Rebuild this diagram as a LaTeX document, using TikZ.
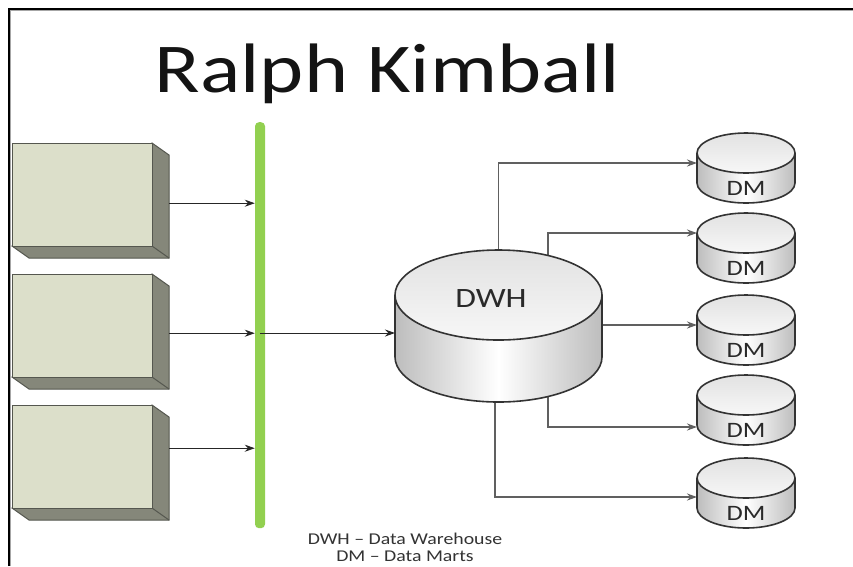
\documentclass[tikz,border=0pt]{standalone}
\usepackage{fontspec}
\usepackage{graphicx}
\setmainfont{Carlito}
\usetikzlibrary{arrows.meta}

\definecolor{boxface}{HTML}{DCDFCA}
\definecolor{boxside}{HTML}{85877A}
\definecolor{boxline}{HTML}{55574F}
\definecolor{busgreen}{HTML}{92D050}
\definecolor{cylline}{HTML}{333333}
\definecolor{cylgrey}{HTML}{BDBDBD}
\definecolor{cyltopa}{HTML}{E2E2E2}
\definecolor{cyltopb}{HTML}{F7F7F7}
\definecolor{wire}{HTML}{606060}
\definecolor{inktext}{HTML}{2A2A2A}

% horizontally widened text, as on the slide
\newcommand\widetext[1]{\scalebox{1.2}[1]{#1}}

% 3-D source box: #1 name, #2 left x, #3 top y of the front face
\newcommand\srcbox[3]{%
  \filldraw[boxline, fill=boxside, line width=1]
    (#2+140,#3) -- ++(17,12) -- ++(0,103) -- ++(-140,0) -- ++(-17,-12) -- cycle;
  \draw[boxline, line width=1] (#2+140,#3+103) -- ++(17,12);
  \filldraw[boxline, fill=boxface, line width=1] (#2,#3) rectangle ++(140,103);
  \node[inner sep=0, minimum width=157, minimum height=115, anchor=north west] (#1) at (#2,#3) {};
}

% database cylinder: #1 name, #2 centre x, #3 centre y of the top ellipse,
% #4 x radius, #5 y radius, #6 body height
\newcommand\dbcyl[6]{%
  \path[left color=cylgrey, right color=cylgrey, middle color=white]
    (#2-#4,#3) -- (#2-#4,#3+#6)
    arc[start angle=180, end angle=0, x radius=#4, y radius=#5]
    -- (#2+#4,#3)
    arc[start angle=0, end angle=180, x radius=#4, y radius=#5] -- cycle;
  \path[top color=cyltopa, bottom color=cyltopb]
    (#2,#3) ellipse[x radius=#4, y radius=#5];
  \draw[cylline, line width=1.6]
    (#2-#4,#3) -- (#2-#4,#3+#6)
    arc[start angle=180, end angle=0, x radius=#4, y radius=#5]
    -- (#2+#4,#3);
  \draw[cylline, line width=1.6] (#2,#3) ellipse[x radius=#4, y radius=#5];
  \node[inner sep=0, minimum width=2*#4, minimum height=2*#5+#6] (#1) at (#2,#3+#6/2) {};
}

\tikzset{
  feed/.style={draw=black!85, line width=1, -{Stealth[length=10pt, width=7pt]}},
  fanout/.style={draw=wire, line width=1.9, -{Stealth[length=10pt, width=7pt, fill=black!85]}},
  dmlabel/.style={inner sep=0, text=inktext, font=\fontsize{22}{26}\selectfont},
  legendtext/.style={anchor=base, inner sep=0, text=black!80, font=\fontsize{16.5}{18}\selectfont},
}

\begin{document}
\begin{tikzpicture}[x=1pt, y=-1pt]
  \useasboundingbox (0,0) rectangle (853,566);
  \fill[white] (0,0) rectangle (853,566);

  % slide frame
  \draw[black!35, line width=1] (10.5,566) -- (10.5,10.8) -- (853,10.8);
  \draw[black, line width=2] (9.3,566) -- (9.3,9.3) -- (853,9.3);

  % title
  \node[anchor=base, inner sep=0, text=black!92, font=\fontsize{70}{84}\selectfont]
    (title) at (387.5,92) {\widetext{Ralph Kimball}};

  % sources
  \srcbox{src1}{12}{143}
  \srcbox{src2}{12}{274}
  \srcbox{src3}{12}{405}

  % integration bus
  \node[fill=busgreen, minimum width=10, minimum height=406, inner sep=0,
        rounded corners=4, anchor=north] (bus) at (260,122) {};

  \draw[feed] ([yshift=-2.5pt]src1.east) -- ([yshift=-2.5pt]src1.east -| bus.west);
  \draw[feed] ([yshift=-1.5pt]src2.east) -- ([yshift=-1.5pt]src2.east -| bus.west);
  \draw[feed] ([yshift=14.5pt]src3.east) -- ([yshift=14.5pt]src3.east -| bus.west);

  % fan-out wires (drawn first so the cylinder covers their roots)
  \coordinate (dm1in) at (697,163);
  \coordinate (dm2in) at (697,233);
  \coordinate (dm3in) at (697,325);
  \coordinate (dm4in) at (697,427);
  \coordinate (dm5in) at (697,497);
  \coordinate (dwhin) at (395,333);
  \coordinate (dwhtop) at (498.5,252);
  \coordinate (dwhtopr) at (548,280);
  \coordinate (dwhright) at (600,325);
  \coordinate (dwhbotr) at (548,380);
  \coordinate (dwhbot) at (495,390);

  \draw[fanout] (dwhtop) |- (dm1in);
  \draw[fanout] (dwhtopr) |- (dm2in);
  \draw[fanout] (dwhright) -- (dm3in);
  \draw[fanout] (dwhbotr) |- (dm4in);
  \draw[fanout] (dwhbot) |- (dm5in);

  % data warehouse
  \dbcyl{dwh}{498.5}{295}{103.5}{45}{62}
  \node[dmlabel, font=\fontsize{28}{32}\selectfont] (dwhlabel) at (491,299) {\widetext{DWH}};

  \draw[feed] (bus.center |- dwhin) -- (dwhin);

  % data marts
  \dbcyl{dm1}{746}{153}{49}{20}{30}
  \dbcyl{dm2}{746}{233}{49}{20}{30}
  \dbcyl{dm3}{746}{315}{49}{20}{30}
  \dbcyl{dm4}{746}{395}{49}{20}{30}
  \dbcyl{dm5}{746}{478}{49}{20}{30}
  \node[dmlabel] (dm1label) at (746,188) {\widetext{DM}};
  \node[dmlabel] (dm2label) at (746,268) {\widetext{DM}};
  \node[dmlabel] (dm3label) at (746,350) {\widetext{DM}};
  \node[dmlabel] (dm4label) at (746,430) {\widetext{DM}};
  \node[dmlabel] (dm5label) at (746,513) {\widetext{DM}};

  % legend
  \node[legendtext] (legend1) at (405,544.5) {\widetext{DWH – Data Warehouse}};
  \node[legendtext] (legend2) at (405,561) {\widetext{DM – Data Marts}};
\end{tikzpicture}
\end{document}
